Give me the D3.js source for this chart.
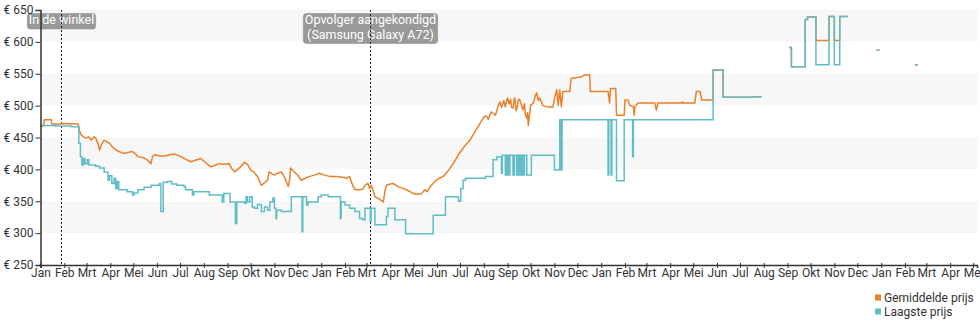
<!DOCTYPE html>
<html>
<head>
<meta charset="utf-8">
<script src="https://cdn.jsdelivr.net/npm/d3@7"></script>
<style>
  html, body { margin: 0; padding: 0; background: #fff; }
  svg { display: block; font-family: Roboto, "Noto Sans", sans-serif; }
</style>
</head>
<body>
<svg id="chart" width="980" height="325"></svg>
<script>
// Price history: average price and lowest price (euro)
const monthLabels = ["Jan","Feb","Mrt","Apr","Mei","Jun","Jul","Aug","Sep","Okt","Nov","Dec"];
const priceTicks = [250, 300, 350, 400, 450, 500, 550, 600, 650];
const seriesNames = ["Gemiddelde prijs", "Laagste prijs"];
const seriesColors = ["#e9802c", "#5fbdc7"];

const eventDates = ["2020-01-28", "2021-03-06"];
const eventLabels = [["In de winkel"], ["Opvolger aangekondigd", "(Samsung Galaxy A72)"]];

const avgDates = [
  "2020-01-01","2020-01-05","2020-01-06","2020-01-15","2020-01-16","2020-01-27","2020-01-28","2020-02-19","2020-02-21","2020-02-23",
  "2020-02-26","2020-02-29","2020-03-04","2020-03-07","2020-03-11","2020-03-13","2020-03-16","2020-03-18","2020-03-20","2020-03-24",
  "2020-03-28","2020-03-31","2020-04-03","2020-04-06","2020-04-12","2020-04-19","2020-04-25","2020-04-30","2020-05-04","2020-05-07",
  "2020-05-15","2020-05-20","2020-05-24","2020-05-26","2020-05-29","2020-06-05","2020-06-11","2020-06-18","2020-06-24","2020-06-28",
  "2020-07-02","2020-07-08","2020-07-15","2020-07-20","2020-07-28","2020-08-02","2020-08-10","2020-08-15","2020-08-21","2020-08-28",
  "2020-09-03","2020-09-06","2020-09-10","2020-09-14","2020-09-18","2020-09-23","2020-09-27","2020-10-01","2020-10-05","2020-10-10",
  "2020-10-13","2020-10-15","2020-10-19","2020-10-23","2020-10-25","2020-10-29","2020-11-01","2020-11-05","2020-11-10","2020-11-14",
  "2020-11-19","2020-11-21","2020-11-22","2020-11-27","2020-12-02","2020-12-06","2020-12-11","2020-12-17","2020-12-23","2020-12-30",
  "2021-01-05","2021-01-12","2021-01-21","2021-01-27","2021-02-03","2021-02-07","2021-02-10","2021-02-14","2021-02-19","2021-02-24",
  "2021-02-27","2021-03-03","2021-03-05","2021-03-07","2021-03-10","2021-03-12","2021-03-17","2021-03-23","2021-03-25","2021-03-27",
  "2021-04-01","2021-04-05","2021-04-11","2021-04-16","2021-04-22","2021-04-27","2021-05-01","2021-05-06","2021-05-12","2021-05-16",
  "2021-05-19","2021-05-23","2021-05-27","2021-05-31","2021-06-04","2021-06-09","2021-06-13","2021-06-18","2021-06-22","2021-06-26",
  "2021-06-30","2021-07-03","2021-07-08","2021-07-14","2021-07-18","2021-07-22","2021-07-27","2021-07-31","2021-08-03","2021-08-05",
  "2021-08-07","2021-08-09","2021-08-11","2021-08-13","2021-08-16","2021-08-18","2021-08-20","2021-08-22","2021-08-24","2021-08-27",
  "2021-08-29","2021-08-31","2021-09-01","2021-09-03","2021-09-05","2021-09-06","2021-09-08","2021-09-10","2021-09-11","2021-09-12",
  "2021-09-14","2021-09-15","2021-09-17","2021-09-19","2021-09-21","2021-09-23","2021-09-24","2021-09-26","2021-09-27","2021-09-28",
  "2021-10-01","2021-10-05","2021-10-07","2021-10-09","2021-10-11","2021-10-13","2021-10-17","2021-10-23","2021-10-30","2021-11-01",
  "2021-11-04","2021-11-06","2021-11-08","2021-11-10","2021-11-12","2021-11-21","2021-11-23","2021-12-06","2021-12-10","2021-12-17",
  "2021-12-18","2022-01-10","2022-01-12","2022-01-13","2022-01-20","2022-01-21","2022-01-31","2022-02-01","2022-02-05","2022-02-07",
  "2022-02-12","2022-02-13","2022-02-14","2022-02-18","2022-03-12","2022-03-14","2022-03-16","2022-04-16","2022-04-17","2022-04-18",
  "2022-05-03","2022-05-05","2022-05-10","2022-05-12","2022-05-27","2022-05-27","2022-06-09","2022-06-09","2022-07-16","2022-07-16",
  "2022-07-29","2022-08-15","2022-09-03","2022-09-06","2022-09-06","2022-09-24","2022-09-24","2022-09-27","2022-09-27","2022-10-08",
  "2022-10-08","2022-10-25","2022-10-25","2022-11-01","2022-11-01","2022-11-08","2022-11-08","2022-11-19","2022-12-01","2022-12-26",
  "2022-12-30","2023-01-15","2023-02-14","2023-02-18"
];
const avgPrices = [
  468,468,478,478,471,471,472,471,460,454,
  451,449,451,446,451,449,440,430,438,446,
  443,441,436,433,428,425,427,428,424,420,
  418,414,409,420,423,421,421,423,424,422,
  420,416,412,414,417,412,404,406,409,408,
  409,402,396,400,404,411,408,399,396,389,
  380,375,379,383,396,393,391,394,396,388,
  373,385,402,396,390,383,386,389,391,394,
  391,389,389,388,386,389,378,368,368,369,
  375,378,370,375,366,357,354,349,365,375,
  377,378,373,371,368,365,362,361,362,368,
  365,373,378,383,386,389,394,402,409,417,
  425,430,438,446,454,462,472,480,484,483,
  478,486,490,488,485,492,501,506,497,508,
  498,509,512,503,510,497,496,512,507,492,
  499,510,509,501,493,503,487,480,489,469,
  500,505,515,520,508,512,500,498,498,510,
  525,500,525,498,522,522,543,545,548,548,
  522,522,504,527,527,485,485,509,509,501,
  498,485,498,504,504,493,504,504,506,504,
  504,522,522,509,509,556,556,513,513,514,
  514,null,591,591,561,561,635,635,639,639,
  602,602,640,640,602,602,640,640,null,587,
  587,null,564,564
];

const lowDates = [
  "2020-01-01","2020-01-20","2020-02-10","2020-02-20","2020-02-22","2020-02-24","2020-02-26","2020-02-28","2020-03-02","2020-03-04",
  "2020-03-13","2020-03-18","2020-03-24","2020-03-29","2020-03-31","2020-04-03","2020-04-06","2020-04-08","2020-04-10","2020-04-12",
  "2020-04-23","2020-04-30","2020-05-02","2020-05-07","2020-05-15","2020-05-24","2020-06-04","2020-06-06","2020-06-09","2020-06-14",
  "2020-06-20","2020-06-27","2020-07-06","2020-07-08","2020-07-17","2020-07-19","2020-08-08","2020-08-25","2020-08-27","2020-09-04",
  "2020-09-11","2020-09-13","2020-09-23","2020-09-25","2020-09-27","2020-09-30","2020-10-03","2020-10-06","2020-10-10","2020-10-15",
  "2020-10-19","2020-10-23","2020-10-26","2020-10-30","2020-11-01","2020-11-03","2020-11-04","2020-11-10","2020-11-23","2020-12-07",
  "2020-12-08","2020-12-13","2020-12-15","2020-12-28","2021-01-01","2021-01-10","2021-01-26","2021-01-27","2021-02-01","2021-02-07",
  "2021-02-14","2021-02-20","2021-02-24","2021-02-27","2021-03-06","2021-03-07","2021-03-12","2021-03-27","2021-03-29","2021-04-07",
  "2021-04-21","2021-05-27","2021-06-12","2021-06-29","2021-07-02","2021-07-05","2021-07-08","2021-08-03","2021-08-13","2021-08-18",
  "2021-08-24","2021-08-25","2021-08-29","2021-08-31","2021-09-02","2021-09-04","2021-09-08","2021-09-10","2021-09-13","2021-09-15",
  "2021-09-17","2021-09-19","2021-09-21","2021-09-23","2021-09-26","2021-10-02","2021-11-01","2021-11-08","2021-11-10","2021-11-11",
  "2022-01-10","2022-01-11","2022-01-14","2022-01-15","2022-01-21","2022-01-31","2022-02-11","2022-02-12","2022-05-27","2022-06-09",
  "2022-07-16","2022-07-29","2022-08-15",
  "2022-09-03","2022-09-06","2022-09-24","2022-09-27","2022-10-08","2022-10-25","2022-11-01","2022-11-08","2022-11-19","2022-12-01",
  "2022-12-26","2022-12-30","2023-01-15","2023-02-14","2023-02-18"
];
const lowPrices = [
  469,468,467,441,420,407,417,409,415,407,
  405,402,396,383,390,378,386,370,381,368,
  365,360,363,368,372,375,378,334,380,381,
  377,375,373,368,360,365,360,349,362,349,
  315,349,347,357,349,357,341,339,345,334,
  341,336,349,355,339,323,336,334,357,302,
  357,344,349,357,360,357,323,349,344,339,
  334,323,321,339,318,339,313,326,339,321,
  299,328,357,350,370,383,386,389,415,420,
  394,422,391,422,391,422,391,422,391,422,
  391,422,391,422,391,422,399,478,399,478,
  391,478,391,478,382,478,420,478,556,513,
  514,514,null,
  591,561,635,639,564,640,564,640,640,null,
  587,587,null,564,564
];

const svg = d3.select("#chart");
const parse = d3.timeParse("%Y-%m-%d");

const x = d3.scaleTime()
  .domain([parse("2020-01-01"), parse("2023-05-06")])
  .range([40.5, 977]);
const y = d3.scaleLinear().domain([250, 650]).range([265, 10]);

// alternating horizontal bands
const bandPairs = [[600, 650], [500, 550], [400, 450], [300, 350]];
svg.append("g").selectAll("rect").data(bandPairs).join("rect")
  .attr("x", x.range()[0]).attr("width", x.range()[1] - x.range()[0])
  .attr("y", d => y(d[1])).attr("height", d => y(d[0]) - y(d[1]))
  .attr("fill", "#f7f7f7");

const events = eventDates.map((d, i) => ({ date: parse(d), lines: eventLabels[i] }));
const evG = svg.append("g");

// price lines
const avgData = avgDates.map((d, i) => ({ date: parse(d), value: avgPrices[i] }));
const lowData = lowDates.map((d, i) => ({ date: parse(d), value: lowPrices[i] }));

const avgLine = d3.line().defined(d => d.value != null)
  .x(d => x(d.date)).y(d => y(d.value)).curve(d3.curveLinear);
const lowLine = d3.line().defined(d => d.value != null)
  .x(d => x(d.date)).y(d => y(d.value)).curve(d3.curveStepAfter);

svg.append("path").datum(avgData).attr("d", avgLine)
  .attr("fill", "none").attr("stroke", seriesColors[0]).attr("stroke-width", 1.5)
  .attr("stroke-linejoin", "round");
svg.append("path").datum(lowData).attr("d", lowLine)
  .attr("fill", "none").attr("stroke", seriesColors[1]).attr("stroke-width", 1.5);

// event labels with dotted marker lines
events.forEach(ev => {
  const cx = Math.round(x(ev.date)) + 0.5;
  const g = evG.append("g");
  const rect = g.append("rect").attr("rx", 3).attr("ry", 3)
    .attr("fill", "#999").attr("stroke", "#8a8a8a").attr("stroke-width", 0.5);
  const t = g.append("text").attr("fill", "#fff").attr("font-size", 12.5);
  ev.lines.forEach((ln, i) => {
    t.append("tspan").attr("x", cx).attr("y", 24 + i * 14.5).attr("text-anchor", "middle").text(ln);
  });
  const bb = t.node().getBBox();
  rect.attr("x", bb.x - 1.5).attr("y", 13.5).attr("width", bb.width + 3).attr("height", bb.height + 0.5);
  g.append("line").attr("x1", cx).attr("x2", cx).attr("y1", 10).attr("y2", 265)
    .attr("stroke", "#222").attr("stroke-width", 1).attr("stroke-dasharray", "2,2");
});

// axes
const yAxis = d3.axisLeft(y).tickValues(priceTicks).tickSize(5).tickPadding(2)
  .tickFormat(d => "€ " + d);
const yg = svg.append("g").attr("transform", `translate(${x.range()[0]},0)`).call(yAxis);
yg.select(".domain").attr("stroke", "#333").attr("stroke-width", 1.5);
yg.selectAll(".tick line").attr("stroke", "#333");
yg.selectAll(".tick text").attr("fill", "#333").attr("font-size", 12)
  .attr("font-family", "Roboto, sans-serif");

const xAxis = d3.axisBottom(x).ticks(d3.timeMonth.every(1)).tickSize(3)
  .tickFormat(d => monthLabels[d.getMonth()]);
const xg = svg.append("g").attr("transform", "translate(0,265)").call(xAxis);
xg.select(".domain").attr("stroke", "#333").attr("stroke-width", 1.5);
xg.selectAll(".tick line").attr("stroke", "#333").attr("y1", -2);
xg.selectAll(".tick text").attr("fill", "#333").attr("font-size", 12)
  .attr("font-family", "Roboto, sans-serif").attr("y", 3.5);

// legend
const lg = svg.append("g").attr("transform", "translate(875,0)");
seriesNames.forEach((name, i) => {
  lg.append("rect").attr("x", 0).attr("y", 294.5 + i * 14).attr("width", 6).attr("height", 6)
    .attr("fill", seriesColors[i]);
  lg.append("text").attr("x", 9).attr("y", 301.5 + i * 14).attr("font-size", 12)
    .attr("fill", "#333").text(name);
});
</script>
</body>
</html>
